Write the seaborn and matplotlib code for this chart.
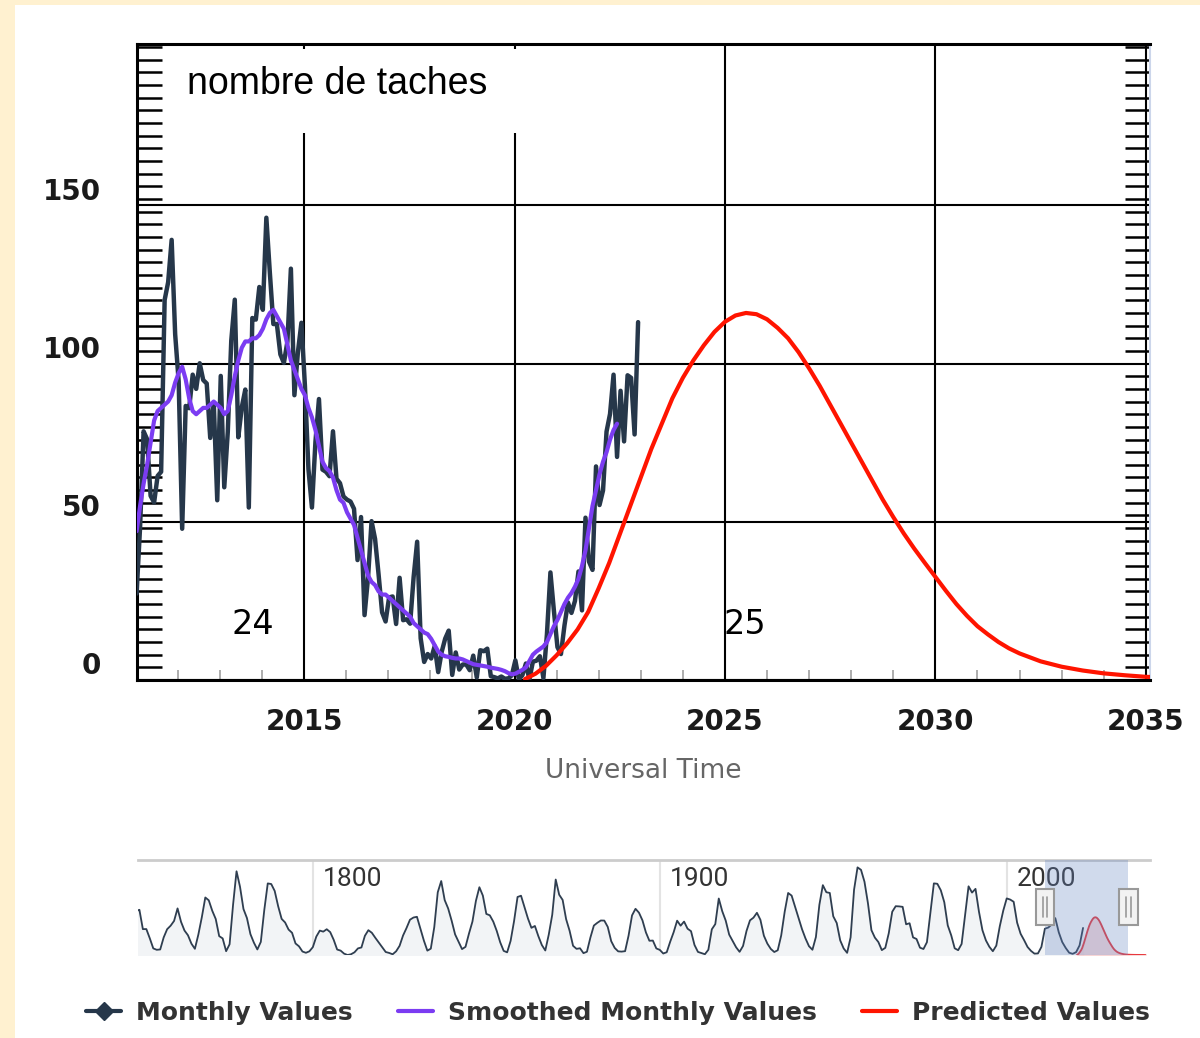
import matplotlib
matplotlib.use("Agg")
import matplotlib.pyplot as plt
import matplotlib.transforms as mtransforms
from matplotlib.patches import Rectangle
from matplotlib.lines import Line2D
from matplotlib.ticker import MultipleLocator
import seaborn as sns

# monthly sunspot numbers, Jan 2011 .. Dec 2022
monthly_values = [
    27.3, 48.3, 78.6, 76.1, 58.2, 56.1, 64.5, 65.8, 120.1, 125.7, 139.1, 109.3,
    94.4, 47.8, 86.6, 85.9, 96.5, 92.0, 100.1, 94.8, 93.7, 76.5, 87.6, 56.8,
    96.1, 60.9, 78.3, 107.3, 120.2, 76.7, 86.2, 91.8, 54.5, 114.4, 113.9, 124.2,
    117.0, 146.1, 128.7, 112.5, 112.5, 102.9, 100.2, 106.9, 130.0, 90.0, 103.6, 112.9,
    93.0, 66.7, 54.5, 75.3, 88.8, 66.5, 65.8, 64.4, 78.6, 63.6, 62.2, 58.0,
    57.0, 56.4, 54.1, 37.9, 51.5, 20.5, 32.4, 50.2, 44.6, 33.4, 21.4, 18.5,
    26.1, 26.4, 17.7, 32.3, 18.9, 19.2, 17.8, 32.6, 43.7, 13.2, 5.7, 8.2,
    6.8, 10.7, 2.5, 8.9, 13.1, 15.6, 1.6, 8.7, 3.3, 4.9, 4.9, 3.1,
    7.7, 0.8, 9.4, 9.1, 9.9, 1.2, 0.9, 0.5, 1.1, 0.4, 0.5, 1.5,
    6.2, 0.2, 1.5, 5.2, 0.2, 5.8, 6.1, 7.5, 0.6, 14.4, 34.0, 21.8,
    10.4, 8.2, 17.2, 24.5, 21.2, 25.0, 34.3, 22.0, 51.3, 37.4, 34.8, 67.5,
    55.3, 59.9, 78.5, 84.1, 96.5, 70.5, 91.4, 75.4, 96.3, 95.5, 77.6, 113.1,
]

# smoothed monthly values, Jan 2011 .. Jun 2022
smoothed_values = [
    47, 55, 62, 68, 75, 82, 85, 86, 87, 88, 90, 94,
    97, 99, 95, 89, 85, 84, 85, 86, 86, 87, 88, 87,
    86, 84, 85, 90, 96, 101, 105, 107, 107, 108, 108, 109,
    111, 114, 116, 117, 115, 113, 111, 106, 101, 98, 95, 92,
    90, 86, 83, 79, 74, 69, 67, 66, 64, 60, 57, 56,
    53, 51, 49, 45, 41, 37, 33, 31, 30, 28, 27, 27,
    26, 25, 24, 23, 22, 21, 20, 18, 17, 16, 15, 14.5,
    13, 11, 9, 8, 7.5, 7.3, 7, 6.8, 6.8, 6.5, 6, 5.5,
    5, 4.8, 4.6, 4.4, 4.2, 3.9, 3.7, 3.5, 3.2, 2.8, 2.2, 1.8,
    2.0, 2.6, 3.2, 4.0, 6.0, 8.0, 9.0, 9.8, 10.6, 12.0, 14.5, 17.0,
    19, 21.5, 24, 26, 27.5, 29.5, 32, 36, 41, 48, 55, 60,
    65, 69, 72, 76, 79, 81,
]

# predicted values for cycle 25
predicted_years = [
    2020.25, 2020.5, 2020.75, 2021.0, 2021.25, 2021.5, 2021.75, 2022.0,
    2022.25, 2022.5, 2022.75, 2023.0, 2023.25, 2023.5, 2023.75, 2024.0,
    2024.25, 2024.5, 2024.75, 2025.0, 2025.25, 2025.5, 2025.75, 2026.0,
    2026.25, 2026.5, 2026.75, 2027.0, 2027.25, 2027.5, 2027.75, 2028.0,
    2028.25, 2028.5, 2028.75, 2029.0, 2029.25, 2029.5, 2029.75, 2030.0,
    2030.25, 2030.5, 2030.75, 2031.0, 2031.25, 2031.5, 2031.75, 2032.0,
    2032.5, 2033.0, 2033.5, 2034.0, 2034.5, 2035.0, 2036.0, 2037.0,
    2038.0, 2039.0, 2040.0,
]
predicted_values = [
    0.3, 2.0, 4.5, 7.8, 11.6, 16.0, 21.5, 29.0,
    37.0, 46.0, 55.0, 64.0, 73.0, 81.0, 89.0, 95.5,
    101.0, 105.8, 110.0, 113.2, 115.2, 116.0, 115.6, 114.0,
    111.3, 108.0, 103.6, 98.5, 93.0, 87.0, 81.0, 75.0,
    69.0, 63.0, 57.0, 51.5, 46.3, 41.5, 37.0, 32.6,
    28.2, 24.0, 20.3, 17.0, 14.4, 12.0, 10.0, 8.4,
    5.9, 4.2, 3.0, 2.1, 1.5, 1.0, 0.6, 0.4,
    0.3, 0.2, 0.1,
]

# yearly sunspot numbers 1749 .. 2022 for the navigator
nav_values = [
    134.7, 139.0, 79.5, 79.7, 51.2, 20.3, 16.0, 17.0, 54.0, 79.3, 90.0,
    104.8, 143.2, 102.0, 75.2, 60.7, 34.8, 19.0, 63.0, 116.3, 176.8,
    168.0, 136.0, 110.8, 58.0, 51.0, 11.7, 33.0, 154.2, 257.3, 209.8,
    141.3, 113.5, 64.2, 38.0, 17.0, 40.2, 138.2, 220.0, 218.2, 196.8,
    149.8, 111.0, 100.0, 78.2, 68.3, 35.5, 26.7, 10.7, 6.8, 11.3,
    24.2, 56.7, 75.0, 71.8, 79.2, 70.3, 46.8, 16.8, 13.5, 4.2,
    0.0, 2.3, 8.3, 20.3, 23.2, 59.0, 76.3, 68.3, 52.9, 38.5,
    24.2, 9.2, 6.3, 2.2, 11.4, 28.2, 59.9, 83.0, 108.5, 115.2,
    117.4, 80.8, 44.3, 13.4, 19.5, 85.8, 192.7, 227.3, 168.7, 143.0,
    105.5, 63.3, 40.3, 18.1, 25.1, 65.8, 102.7, 166.3, 208.3, 182.5,
    126.3, 122.0, 102.7, 74.1, 39.0, 12.7, 8.2, 43.4, 104.4, 178.3,
    182.2, 146.6, 112.1, 83.5, 89.2, 57.8, 30.7, 13.9, 62.8, 123.6,
    232.0, 185.3, 169.2, 110.1, 74.5, 28.3, 18.9, 20.7, 5.7, 10.0,
    53.7, 90.5, 99.0, 106.1, 105.8, 86.3, 42.4, 21.8, 11.2, 10.4,
    11.8, 59.5, 121.7, 142.0, 130.0, 106.6, 69.4, 43.8, 44.4, 20.2,
    15.7, 4.6, 8.5, 40.8, 70.1, 105.5, 90.1, 102.8, 80.9, 73.2,
    30.9, 9.5, 6.0, 2.4, 16.1, 79.0, 95.0, 173.6, 134.6, 105.7,
    62.7, 43.5, 23.7, 9.7, 27.9, 74.0, 106.5, 114.7, 129.7, 108.2,
    59.4, 35.1, 18.6, 9.2, 14.6, 60.2, 132.8, 190.6, 182.6, 148.0,
    113.0, 79.2, 50.8, 27.1, 16.1, 55.3, 154.3, 214.7, 193.0, 190.7,
    118.9, 98.3, 45.0, 20.1, 6.6, 54.2, 200.7, 269.3, 261.7, 225.1,
    159.0, 76.4, 53.4, 39.9, 15.0, 22.0, 66.8, 132.9, 150.0, 149.4,
    148.0, 94.4, 97.6, 54.1, 49.2, 22.5, 18.4, 39.3, 131.0, 220.1,
    218.9, 198.9, 162.4, 91.0, 60.5, 20.6, 14.8, 33.9, 123.0, 211.1,
    191.8, 203.3, 133.0, 76.1, 44.9, 25.1, 11.6, 28.9, 88.3, 136.3,
    173.9, 170.4, 163.6, 99.3, 65.3, 45.8, 24.7, 12.6, 4.2, 4.8,
    24.9, 80.8, 84.5, 94.0, 113.3, 69.8, 39.8, 21.7, 7.0, 3.6,
    8.8, 29.6, 83.2,
]
nav_years = list(range(1749, 1749 + len(nav_values)))
nav_ticks = [1800, 1900, 2000]

x_ticks = [2015, 2020, 2025, 2030, 2035]
y_ticks = [0, 50, 100, 150]

monthly_x = [2011 + i / 12 + 0.02 for i in range(len(monthly_values))]
smoothed_x = [2011 + i / 12 + 0.02 for i in range(len(smoothed_values))]

DARK = "#26374a"
PURPLE = "#7b3cf2"
RED = "#ff1400"

sns.set_style("white")
plt.rcParams["font.family"] = ["DejaVu Sans"]

fig = plt.figure(figsize=(12, 10.38), dpi=100)
W, H = 1200, 1038

# cream frame on the left and top
fig.patches.append(Rectangle((0, 0), 15 / W, 1, transform=fig.transFigure,
                             facecolor="#fff1d0", edgecolor="none", zorder=0))
fig.patches.append(Rectangle((0, 1 - 5 / H), 1, 5 / H, transform=fig.transFigure,
                             facecolor="#fff1d0", edgecolor="none", zorder=0))

ax = fig.add_axes([137 / W, 1 - 680 / H, (1150 - 137) / W, (680 - 44) / H])
ax.set_axisbelow(True)

sns.lineplot(x=monthly_x, y=monthly_values, ax=ax, color=DARK, lw=3.2, zorder=3)
sns.lineplot(x=smoothed_x, y=smoothed_values, ax=ax, color=PURPLE, lw=3.0, zorder=4)
sns.lineplot(x=predicted_years, y=predicted_values, ax=ax, color=RED, lw=3.0, zorder=3)

ax.set_xlim(2011.03, 2035.1)
ax.set_ylim(0, 201)
ax.set_xticks(x_ticks)
ax.set_xticklabels([str(t) for t in x_ticks])
ax.set_yticks(y_ticks)
ax.set_yticklabels([str(t) for t in y_ticks])
ax.xaxis.set_minor_locator(MultipleLocator(1))
ax.yaxis.set_minor_locator(MultipleLocator(4))
ax.grid(which="major", color="black", lw=1.5)

ax.tick_params(axis="x", which="major", length=0, pad=20, labelsize=20,
               labelcolor="#1a1a1a")
ax.tick_params(axis="x", which="minor", direction="in", length=7, width=1.2,
               color="#a0a0a0", top=False, bottom=True)
ax.tick_params(axis="y", which="major", length=0, pad=26, labelsize=20,
               labelcolor="#1a1a1a")
ax.tick_params(axis="y", which="minor", direction="in", length=18, width=1.8,
               color="black", left=True, right=True)
for lab in ax.get_xticklabels() + ax.get_yticklabels():
    lab.set_fontweight("bold")
shift = mtransforms.ScaledTranslation(0, 12 / 72, fig.dpi_scale_trans)
for lab in ax.get_yticklabels():
    lab.set_transform(lab.get_transform() + shift)

for side in ["left", "bottom", "top"]:
    ax.spines[side].set_color("black")
    ax.spines[side].set_linewidth(2.2)
ax.spines["right"].set_color("#ccd6eb")
ax.spines["right"].set_linewidth(1.5)

ax.set_xlabel("Universal Time", fontsize=19, color="#666666", labelpad=16)
ax.set_ylabel("")

# white box behind the title text
ax.add_patch(Rectangle((2011.7, 173), 10.3, 26.5, facecolor="white",
                       edgecolor="none", zorder=1))
ax.text(2012.22, 188.3, "nombre de taches", fontsize=27, va="center",
        ha="left", color="black", family=["Liberation Sans", "DejaVu Sans"], zorder=5)
ax.text(2013.77, 17.4, "24", fontsize=24, ha="center", va="center",
        color="black", zorder=5)
ax.text(2025.47, 17.4, "25", fontsize=24, ha="center", va="center",
        color="black", zorder=5)

# navigator
nav = fig.add_axes([138 / W, 1 - 955 / H, (1150 - 138) / W, (955 - 860) / H])
nav.fill_between(nav_years, nav_values, color="#f2f4f6", zorder=1)
sns.lineplot(x=nav_years, y=nav_values, ax=nav, color="#2f3e50", lw=1.3, zorder=2)
nav.fill_between(predicted_years, predicted_values, color="#f5c6c6", alpha=0.6, zorder=1)
sns.lineplot(x=predicted_years, y=predicted_values, ax=nav, color="#e8383d", lw=1.3, zorder=2)
nav.set_xlim(1749.6, 2041.3)
nav.set_ylim(0, 292)
nav.set_xticks(nav_ticks)
nav.set_xticklabels([])
nav.set_yticks([])
nav.tick_params(length=0)
nav.grid(axis="x", color="#e3e3e3", lw=1.5)
nav.set_axisbelow(True)
for side in ["left", "right", "bottom"]:
    nav.spines[side].set_visible(False)
nav.spines["top"].set_color("#cccccc")
nav.spines["top"].set_linewidth(2)
nav.set_xlabel("")
nav.set_ylabel("")

trans = mtransforms.blended_transform_factory(nav.transData, nav.transAxes)
lab_trans = mtransforms.offset_copy(trans, fig=fig, x=7, y=0, units="points")
for yr in nav_ticks:
    nav.text(yr, 0.8, str(yr), transform=lab_trans, fontsize=19,
             family=["Roboto", "DejaVu Sans"], fontweight="normal",
             color="#333333", ha="left", va="center", zorder=3)

sel_lo, sel_hi = ax.get_xlim()
nav.axvspan(sel_lo, sel_hi, color=(0.4, 0.52, 0.76), alpha=0.3, lw=0, zorder=4)
for xh in (sel_lo, sel_hi):
    nav.add_patch(Rectangle((xh - 2.6, 0.32), 5.2, 0.37, transform=trans,
                            facecolor="#f2f2f2", edgecolor="#999999", lw=1.5, zorder=5))
    for dx in (-0.7, 0.7):
        nav.plot([xh + dx, xh + dx], [0.4, 0.61], transform=trans,
                 color="#999999", lw=1.2, zorder=6)

# legend
handles = [
    Line2D([], [], color=DARK, lw=3, marker="D", markersize=9),
    Line2D([], [], color=PURPLE, lw=3),
    Line2D([], [], color=RED, lw=3),
]
labels = ["Monthly Values", "Smoothed Monthly Values", "Predicted Values"]
leg = fig.legend(handles, labels, loc="center", bbox_to_anchor=(0.515, 1 - 1013 / H),
                 ncol=3, frameon=False, handlelength=1.4, handletextpad=0.6,
                 columnspacing=1.8, prop={"size": 18, "weight": "bold"})
for t in leg.get_texts():
    t.set_color("#333333")

fig.savefig("out.png", dpi=100)
